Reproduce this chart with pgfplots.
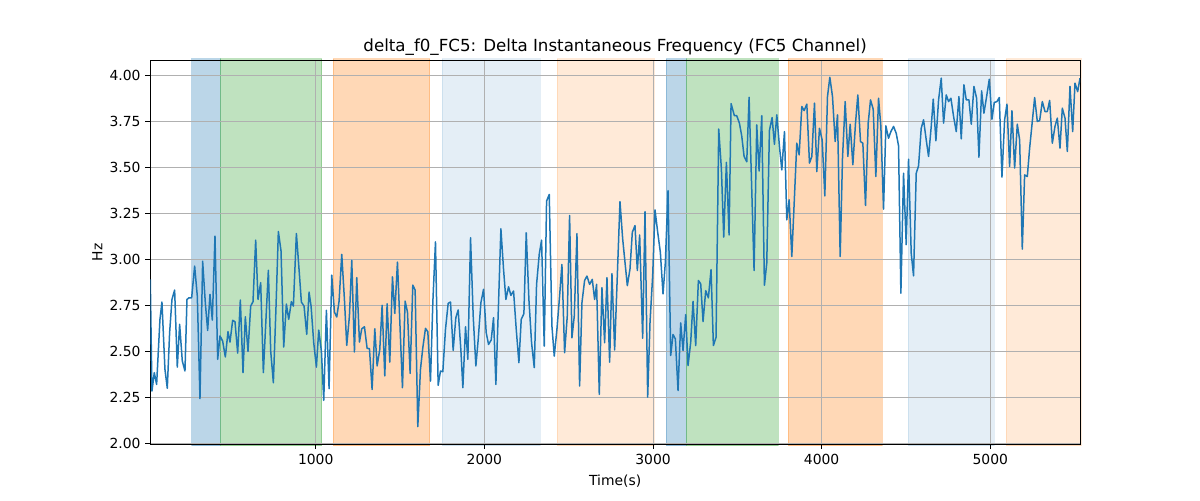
\documentclass[border=0pt]{standalone}
\usepackage{fontspec}
\setmainfont{DejaVu Sans}
\usepackage{pgfplots}
\pgfplotsset{compat=1.18}
\definecolor{cC0}{HTML}{1F77B4}
\definecolor{cC1}{HTML}{FF7F0E}
\definecolor{cC2}{HTML}{2CA02C}
\definecolor{gridc}{HTML}{B0B0B0}
\begin{document}
\begin{tikzpicture}
\begin{axis}[
  set layers,
  at={(108.2pt,40.1pt)}, anchor=south west,
  scale only axis, width=669.4pt, height=276.5pt,
  xmin=18.8, xmax=5532, ymin=1.997, ymax=4.081,
  xtick={1000,2000,3000,4000,5000},
  ytick={2,2.25,2.5,2.75,3,3.25,3.5,3.75,4},
  yticklabel style={/pgf/number format/.cd,fixed,fixed zerofill,precision=2},
  xticklabel style={/pgf/number format/1000 sep={}},
  /pgf/number format/assume math mode=true,
  ticklabel style={font=\fontsize{10}{12}\selectfont},
  tick align=outside, major tick length=3.5pt,
  tick style={black, line width=0.576pt},
  axis line style={black, line width=0.576pt},
  xtick pos=bottom, ytick pos=left,
  grid=major, grid style={gridc, line width=0.576pt},
  xlabel={Time(s)}, ylabel={Hz},
  label style={font=\fontsize{10}{12}\selectfont},
  xlabel style={at={(axis description cs:0.5,-0.0956)}, anchor=center},
  ylabel style={at={(axis description cs:-0.057,0.5)}, anchor=center},
  title={delta\_f0\_FC5: Delta Instantaneous Frequency (FC5 Channel)},
  title style={at={(axis description cs:0.5,1.0136)}, anchor=center, yshift=0pt, font=\fontsize{12}{14}\selectfont},
]
% shaded intervals
\addplot[on layer=axis background, fill=cC0, fill opacity=0.3, draw=cC0, draw opacity=0.3] coordinates {(264,1.99) (432,1.99) (432,4.09) (264,4.09)} -- cycle;
\addplot[on layer=axis background, fill=cC2, fill opacity=0.3, draw=cC2, draw opacity=0.3] coordinates {(432,1.99) (1035,1.99) (1035,4.09) (432,4.09)} -- cycle;
\addplot[on layer=axis background, fill=cC1, fill opacity=0.3, draw=cC1, draw opacity=0.3] coordinates {(1101,1.99) (1675,1.99) (1675,4.09) (1101,4.09)} -- cycle;
\addplot[on layer=axis background, fill=cC0, fill opacity=0.12, draw=cC0, draw opacity=0.12] coordinates {(1748,1.99) (2329,1.99) (2329,4.09) (1748,4.09)} -- cycle;
\addplot[on layer=axis background, fill=cC1, fill opacity=0.16, draw=cC1, draw opacity=0.16] coordinates {(2430,1.99) (3007,1.99) (3007,4.09) (2430,4.09)} -- cycle;
\addplot[on layer=axis background, fill=cC0, fill opacity=0.3, draw=cC0, draw opacity=0.3] coordinates {(3079,1.99) (3198,1.99) (3198,4.09) (3079,4.09)} -- cycle;
\addplot[on layer=axis background, fill=cC2, fill opacity=0.3, draw=cC2, draw opacity=0.3] coordinates {(3198,1.99) (3740,1.99) (3740,4.09) (3198,4.09)} -- cycle;
\addplot[on layer=axis background, fill=cC1, fill opacity=0.3, draw=cC1, draw opacity=0.3] coordinates {(3801,1.99) (4359,1.99) (4359,4.09) (3801,4.09)} -- cycle;
\addplot[on layer=axis background, fill=cC0, fill opacity=0.12, draw=cC0, draw opacity=0.12] coordinates {(4514,1.99) (5023,1.99) (5023,4.09) (4514,4.09)} -- cycle;
\addplot[on layer=axis background, fill=cC1, fill opacity=0.16, draw=cC1, draw opacity=0.16] coordinates {(5095,1.99) (5540,1.99) (5540,4.09) (5095,4.09)} -- cycle;
% signal
\addplot[cC0, line width=1.08pt, line join=round, mark=none] coordinates {
(18.8,2.892) (28.7,2.286) (42.5,2.386) (56.4,2.322) (76.2,2.675) (88.0,2.769) (105.8,2.404) (119.7,2.301)
(133.5,2.603) (147.4,2.783) (163.2,2.834) (179.0,2.416) (192.9,2.648) (208.7,2.449) (224.5,2.395) (236.4,2.783)
(248.2,2.792) (264.1,2.792) (281.9,2.964) (297.7,2.801) (313.5,2.245) (329.3,2.991) (345.2,2.765) (359.0,2.615)
(372.9,2.811) (386.7,2.671) (402.5,3.127) (418.4,2.458) (432.2,2.585) (448.0,2.557) (463.9,2.471) (479.7,2.608)
(491.5,2.552) (507.4,2.670) (521.2,2.662) (537.0,2.492) (552.9,2.780) (568.7,2.386) (582.5,2.689) (598.3,2.501)
(614.2,2.747) (628.0,2.771) (643.8,3.105) (657.7,2.783) (673.5,2.874) (689.3,2.386) (719.0,2.941) (732.9,2.503)
(748.7,2.331) (764.5,2.747) (778.3,3.152) (794.2,3.046) (810.0,2.525) (825.8,2.758) (839.7,2.675) (855.5,2.771)
(867.4,2.747) (885.2,3.141) (901.0,2.946) (914.8,2.769) (930.7,2.747) (946.5,2.594) (960.4,2.823) (972.3,2.747)
(988.1,2.548) (1003.9,2.416) (1017.7,2.617) (1033.6,2.503) (1047.4,2.236) (1063.2,2.724) (1079.1,2.299) (1094.9,2.915)
(1110.7,2.715) (1124.6,2.688) (1138.4,2.774) (1154.2,3.028) (1170.1,2.783) (1183.9,2.534) (1199.7,2.693) (1213.6,2.995)
(1229.4,2.498) (1243.2,2.901) (1259.1,2.552) (1272.9,2.624) (1288.7,2.635) (1304.6,2.518) (1318.4,2.516) (1334.2,2.295)
(1350.1,2.624) (1363.9,2.422) (1379.7,2.512) (1393.6,2.751) (1409.4,2.368) (1423.2,2.760) (1439.1,2.443) (1454.9,2.906)
(1468.7,2.707) (1484.6,2.986) (1500.4,2.621) (1514.2,2.304) (1530.0,2.774) (1543.9,2.715) (1559.7,2.382) (1575.5,2.861)
(1589.4,2.834) (1605.2,2.093) (1621.0,2.404) (1634.9,2.521) (1650.7,2.626) (1664.6,2.608) (1680.4,2.340) (1694.2,2.765)
(1710.0,3.095) (1725.9,2.317) (1739.7,2.395) (1753.6,2.391) (1769.4,2.621) (1785.2,2.762) (1799.1,2.769) (1814.9,2.507)
(1830.7,2.684) (1844.5,2.726) (1860.4,2.512) (1872.4,2.304) (1888.2,2.635) (1902.0,2.458) (1917.9,3.118) (1933.7,2.693)
(1949.5,2.422) (1963.4,2.566) (1979.2,2.765) (1995.0,2.838) (2010.8,2.603) (2024.7,2.539) (2040.5,2.563) (2054.3,2.684)
(2068.2,2.322) (2084.0,2.765) (2097.9,3.167) (2113.7,2.946) (2127.5,2.783) (2143.4,2.852) (2157.2,2.805) (2173.0,2.829)
(2188.9,2.621) (2204.7,2.440) (2218.5,2.675) (2234.3,2.706) (2248.2,3.145) (2264.0,2.783) (2279.8,2.548) (2295.7,2.413)
(2309.5,2.865) (2325.3,3.028) (2339.2,3.105) (2355.0,2.530) (2368.8,3.317) (2384.7,3.353) (2400.5,2.639) (2414.3,2.476)
(2430.2,2.621) (2446.0,2.801) (2459.8,2.973) (2475.7,2.494) (2491.5,2.693) (2505.3,3.239) (2519.2,2.575) (2533.0,2.693)
(2548.9,3.140) (2564.7,2.313) (2578.5,2.765) (2594.3,2.886) (2608.2,2.910) (2624.0,2.865) (2639.8,2.892) (2653.7,2.783)
(2665.5,2.865) (2681.4,2.268) (2697.2,2.847) (2713.0,2.548) (2726.9,2.901) (2742.7,2.443) (2756.5,2.923) (2772.4,2.509)
(2804.1,3.314) (2820.0,3.112) (2833.8,2.985) (2847.7,2.858) (2863.5,2.949) (2877.3,3.148) (2893.1,3.184) (2907.0,2.940)
(2920.8,3.133) (2938.6,2.573) (2952.5,3.260) (2968.3,2.253) (2982.2,2.660) (2998.0,2.913) (3011.8,3.269) (3027.7,3.148)
(3043.5,3.039) (3059.3,2.813) (3073.2,2.985) (3089.0,3.374) (3104.8,2.479) (3118.6,2.593) (3132.5,2.569) (3148.3,2.289)
(3164.1,2.656) (3178.0,2.506) (3193.8,2.701) (3207.7,2.424) (3223.5,2.551) (3237.3,2.773) (3253.1,2.533) (3269.0,2.886)
(3282.8,2.868) (3296.7,2.663) (3312.5,2.831) (3328.3,2.792) (3344.1,2.945) (3358.0,2.533) (3373.8,2.578) (3389.6,3.708)
(3405.5,3.491) (3419.3,3.121) (3435.1,3.527) (3451.0,3.133) (3462.8,3.846) (3482.6,3.780) (3496.5,3.780) (3512.3,3.740)
(3526.1,3.670) (3540.0,3.560) (3555.8,3.530) (3569.7,3.880) (3599.3,2.940) (3615.1,3.730) (3629.0,3.480) (3644.8,3.780)
(3660.6,2.860) (3674.5,2.980) (3690.3,3.700) (3706.1,3.770) (3720.0,3.625) (3734.0,3.785) (3749.8,3.613) (3763.6,3.486)
(3779.5,3.694) (3793.3,3.215) (3807.1,3.324) (3823.0,3.016) (3838.8,3.342) (3852.6,3.631) (3866.5,3.568) (3882.3,3.830)
(3896.2,3.808) (3912.0,3.843) (3927.8,3.523) (3941.7,3.559) (3957.5,3.848) (3971.3,3.477) (3987.1,3.712) (4003.0,3.649)
(4018.8,3.345) (4034.6,3.884) (4048.5,3.989) (4064.3,3.884) (4080.1,3.640) (4094.0,3.785) (4109.8,3.016) (4123.6,3.550)
(4139.5,3.857) (4155.3,3.559) (4169.1,3.734) (4185.0,3.514) (4200.8,3.740) (4214.6,3.893) (4230.4,3.640) (4244.3,3.631)
(4260.1,3.293) (4275.9,3.740) (4289.8,3.866) (4305.6,3.816) (4321.4,3.450) (4337.3,3.875) (4351.1,3.722) (4366.9,3.273)
(4380.8,3.725) (4396.6,3.658) (4410.4,3.694) (4426.3,3.722) (4442.1,3.685) (4455.9,3.617) (4469.8,2.817) (4485.6,3.468)
(4501.4,3.080) (4515.3,3.544) (4531.1,3.034) (4544.9,2.911) (4560.8,3.468) (4574.6,3.508) (4590.4,3.712) (4604.3,3.758)
(4620.1,3.649) (4633.9,3.559) (4649.8,3.722) (4661.7,3.870) (4677.5,3.644) (4693.3,3.866) (4709.1,3.984) (4723.0,3.740)
(4738.8,3.893) (4752.7,3.857) (4766.5,3.875) (4782.3,3.776) (4798.2,3.694) (4814.0,3.884) (4827.8,3.655) (4843.6,3.948)
(4857.5,3.866) (4873.3,3.866) (4887.2,3.734) (4903.0,3.939) (4918.8,3.875) (4932.7,3.555) (4948.5,3.915) (4962.3,3.794)
(4978.2,3.884) (4994.0,3.978) (5009.8,3.761) (5023.6,3.852) (5039.5,3.857) (5053.3,3.879) (5069.1,3.447) (5085.0,3.758)
(5098.8,3.843) (5114.6,3.505) (5128.5,3.807) (5144.3,3.496) (5160.1,3.734) (5174.0,3.649) (5189.8,3.056) (5203.6,3.459)
(5219.5,3.450) (5233.3,3.604) (5249.1,3.749) (5263.0,3.879) (5278.8,3.749) (5292.7,3.754) (5308.5,3.857) (5324.3,3.803)
(5338.1,3.803) (5352.0,3.863) (5367.8,3.631) (5383.6,3.722) (5397.5,3.767) (5413.3,3.604) (5427.1,3.821) (5443.0,3.767)
(5456.8,3.586) (5472.6,3.939) (5488.5,3.694) (5502.3,3.957) (5518.1,3.911) (5532.0,3.984)
};
\end{axis}
\path (0,0) rectangle (864pt,360pt);
\end{tikzpicture}
\end{document}
